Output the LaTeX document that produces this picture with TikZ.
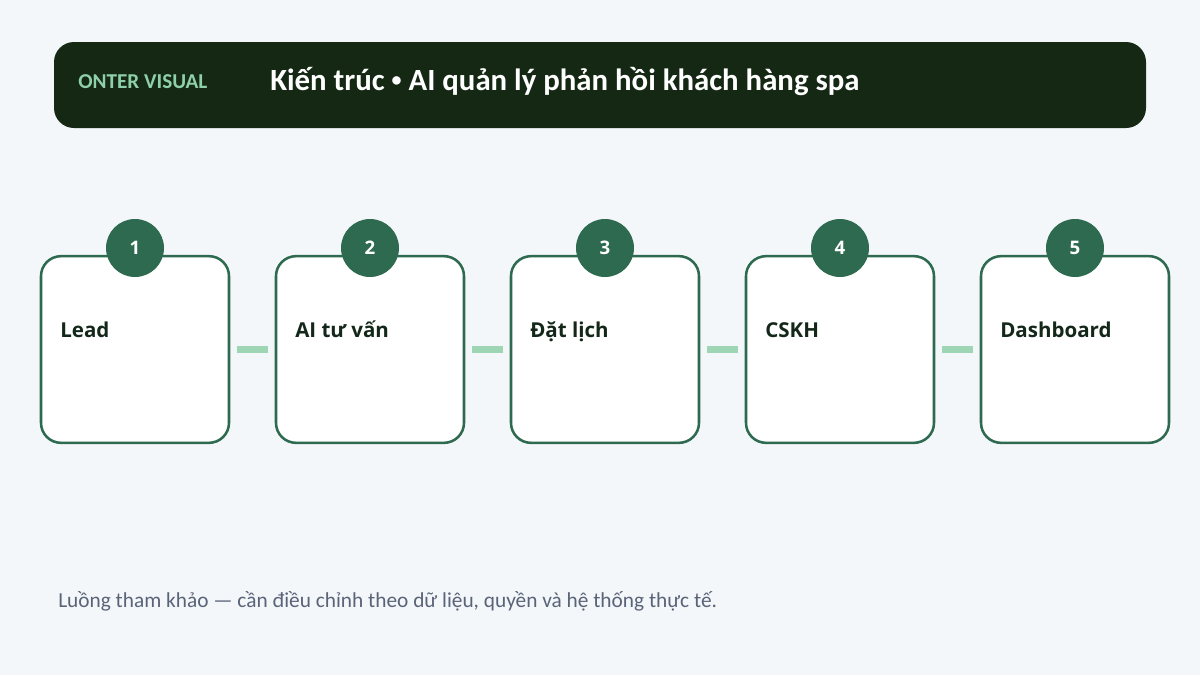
\documentclass[tikz,border=0pt]{standalone}
\usepackage{fontspec}
\setmainfont{Carlito}
\newfontfamily\boxfont{Open Sans}
\definecolor{bgc}{HTML}{F3F7FA}
\definecolor{headc}{HTML}{142814}
\definecolor{brandc}{HTML}{8FD0A8}
\definecolor{stepc}{HTML}{2D6A50}
\definecolor{linkc}{HTML}{9ED5B5}
\definecolor{inkc}{HTML}{14281A}
\definecolor{footc}{HTML}{5A6378}
\tikzset{
  px/.style={x=0.75pt,y=-0.75pt},
  stepbox/.style={draw=stepc,line width=1.9pt,fill=white,rounded corners=15pt,minimum width=141pt,minimum height=140pt,inner sep=0pt},
  badge/.style={circle,fill=stepc,minimum size=43.5pt,inner sep=0pt,text=white,font=\boxfont\bfseries\fontsize{14}{16}\selectfont},
  steplabel/.style={anchor=base west,text=inkc,font=\boxfont\bfseries\fontsize{15.4}{18}\selectfont,inner sep=0pt},
  link/.style={draw=linkc,line width=5.2pt},
}
\begin{document}
\begin{tikzpicture}[px]
\useasboundingbox[fill=bgc] (0,0) rectangle (1200,675);
\node[fill=headc,rounded corners=15pt,minimum width=819pt,minimum height=64.5pt,inner sep=0pt] (head) at (600,85) {};
\node[anchor=base west,inner sep=0pt,text=brandc,font=\bfseries\fontsize{15.9}{18}\selectfont] (brand) at (78,88) {ONTER VISUAL};
\node[anchor=base west,inner sep=0pt,text=white,font=\bfseries\fontsize{23.1}{26}\selectfont] (title) at (270,90) {Kiến trúc \raisebox{0.12em}{\fontsize{15}{15}\selectfont •} AI quản lý phản hồi khách hàng spa};
\foreach \i/\t in {1/Lead,2/AI tư vấn,3/Đặt lịch,4/CSKH,5/Dashboard}{
  \pgfmathsetmacro\cx{135+235*(\i-1)}
  \node[stepbox] (box\i) at (\cx,349.5) {};
  \node[badge] (num\i) at (\cx,248) {\i};
  \node[steplabel] (lab\i) at (\cx-75,337.5) {\t};
}
\foreach \i/\j in {1/2,2/3,3/4,4/5}{
  \coordinate (a\i) at ([xshift=5.25pt]box\i.east);
  \coordinate (b\i) at ([xshift=-5.25pt]box\j.west);
  \draw[link] (a\i) -- (b\i);
}
\node[anchor=base west,inner sep=0pt,text=footc,font=\fontsize{16}{19}\selectfont] (foot) at (58,607) {Luồng tham khảo — cần điều chỉnh theo dữ liệu, quyền và hệ thống thực tế.};
\end{tikzpicture}
\end{document}
